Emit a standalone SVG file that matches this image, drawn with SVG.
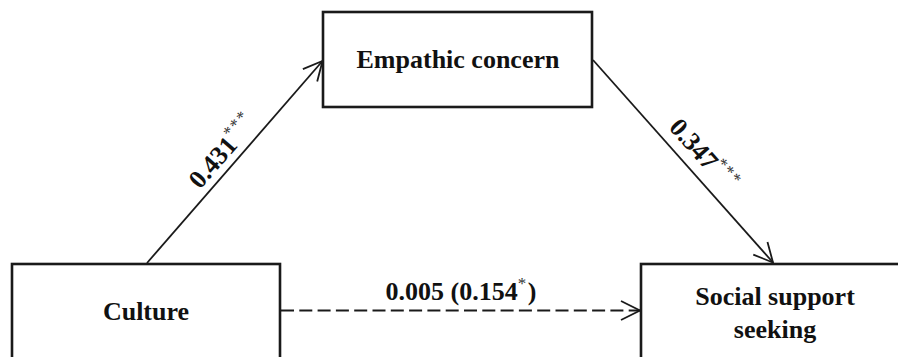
<svg xmlns="http://www.w3.org/2000/svg" width="898" height="357" viewBox="0 0 898 357">
  <style>
    .box { fill: #ffffff; stroke: #1a1a1a; stroke-width: 2.6; }
    .lbl { font-family: "Liberation Serif", "Times New Roman", serif; font-weight: bold; font-size: 26px; fill: #111111; }
    .coef { font-family: "Liberation Serif", "Times New Roman", serif; font-weight: bold; font-size: 26px; fill: #111111; }
    .sup { font-size: 17px; font-weight: normal; fill: #333333; letter-spacing: 1.5px; }
    .path { fill: none; stroke: #1a1a1a; stroke-width: 1.8; }
    .dash { stroke-dasharray: 13 5.3; }
  </style>
  <defs>
    <marker id="openArrow" markerUnits="userSpaceOnUse" markerWidth="24" markerHeight="24" viewBox="-22 -12 24 24" refX="0" refY="0" orient="auto">
      <path d="M -19 -9.5 L 0 0 L -19 9.5" fill="none" stroke="#1a1a1a" stroke-width="1.8"/>
    </marker>
  </defs>

  <rect width="898" height="357" fill="#ffffff"/>

  <g id="connectors">
    <line class="path" x1="147" y1="263" x2="322.5" y2="61" marker-end="url(#openArrow)"/>
    <line class="path" x1="593" y1="60" x2="773" y2="262.5" marker-end="url(#openArrow)"/>
    <line class="path dash" x1="281" y1="310.5" x2="640" y2="310.5" marker-end="url(#openArrow)"/>
    <text class="coef" transform="translate(200,190) rotate(-48.9)">0.431<tspan class="sup" dy="-11">***</tspan></text>
    <text class="coef" transform="translate(668,128) rotate(48.3)">0.347<tspan class="sup" dy="-11">***</tspan></text>
    <text class="coef" x="461" y="300" text-anchor="middle">0.005 (0.154<tspan class="sup" dy="-11">*</tspan><tspan dy="11">)</tspan></text>
  </g>

  <g id="empathic-concern">
    <rect class="box" x="323" y="12" width="269" height="95"/>
    <text class="lbl" x="458" y="68" text-anchor="middle">Empathic concern</text>
  </g>

  <g id="culture">
    <rect class="box" x="12" y="264" width="268" height="110"/>
    <text class="lbl" x="146" y="320" text-anchor="middle">Culture</text>
  </g>

  <g id="social-support-seeking">
    <rect class="box" x="641" y="264" width="280" height="110"/>
    <text class="lbl" x="775" y="305" text-anchor="middle">Social support</text>
    <text class="lbl" x="775" y="338" text-anchor="middle">seeking</text>
  </g>
</svg>
